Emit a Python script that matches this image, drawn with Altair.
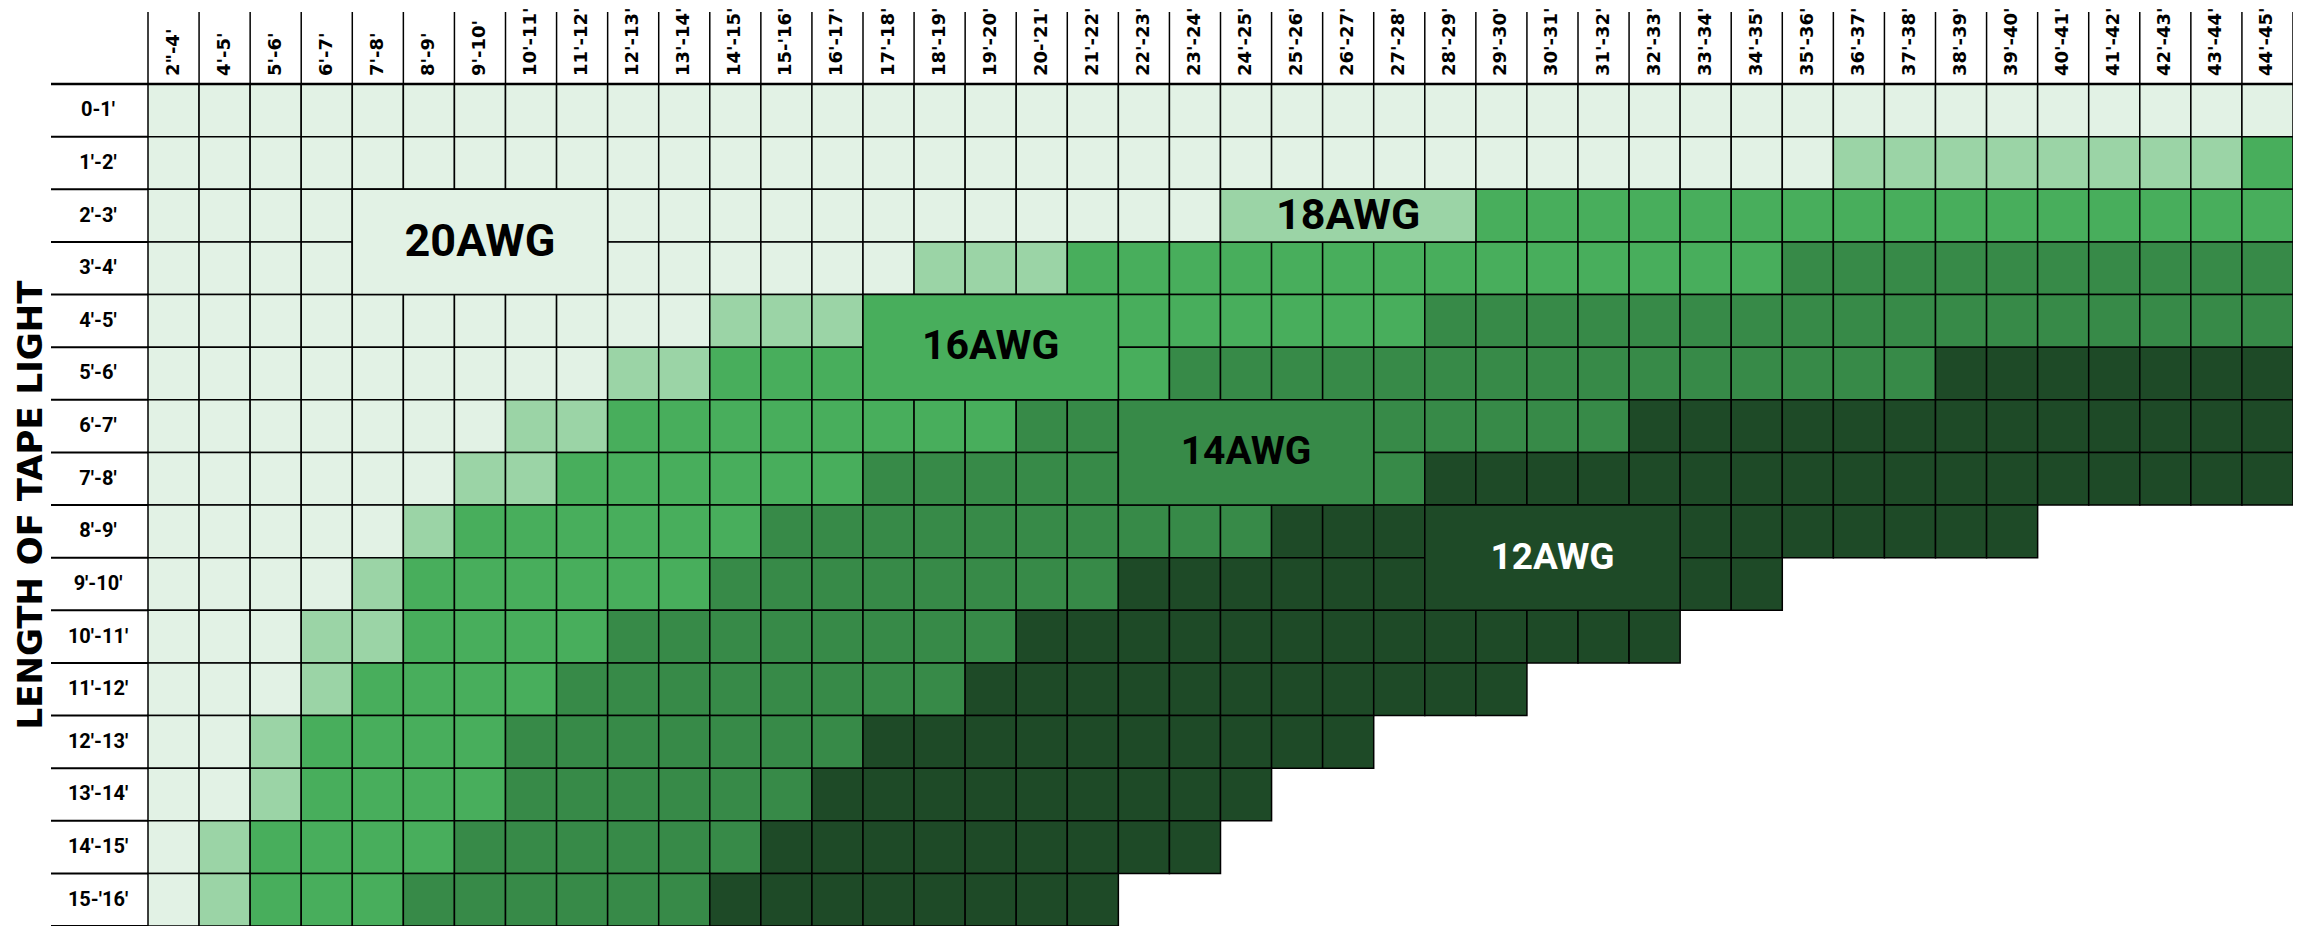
import altair as alt
import pandas as pd

# ---------------- data ----------------
col_labels = ['2"-4\'', "4'-5'", "5'-6'", "6'-7'", "7'-8'", "8'-9'", "9'-10'",
              "10'-11'", "11'-12'", "12'-13'", "13'-14'", "14'-15'", "15-'16'",
              "16'-17'", "17'-18'", "18'-19'", "19'-20'", "20-'21'", "21'-22'",
              "22'-23'", "23'-24'", "24'-25'", "25'-26'", "26'-27'", "27'-28'",
              "28'-29'", "29'-30'", "30'-31'", "31'-32'", "32'-33'", "33'-34'",
              "34'-35'", "35'-36'", "36'-37'", "37'-38'", "38'-39'", "39'-40'",
              "40'-41'", "41'-42'", "42'-43'", "43'-44'", "44'-45'"]
row_labels = ["0-1'", "1'-2'", "2'-3'", "3'-4'", "4'-5'", "5'-6'", "6'-7'", "7'-8'",
              "8'-9'", "9'-10'", "10'-11'", "11'-12'", "12'-13'", "13'-14'",
              "14'-15'", "15-'16'"]
gauges = ["20AWG", "18AWG", "16AWG", "14AWG", "12AWG"]

# number of consecutive cells of each gauge in every row (left to right)
cells_20awg = [42, 33, 21, 15, 11, 9, 7, 6, 5, 4, 3, 3, 2, 2, 1, 1]
cells_18awg = [0, 8, 5, 3, 3, 2, 2, 2, 1, 1, 2, 1, 1, 1, 1, 1]
cells_16awg = [0, 1, 16, 14, 11, 9, 8, 6, 6, 6, 4, 4, 4, 4, 4, 3]
cells_14awg = [0, 0, 0, 10, 17, 15, 12, 11, 10, 8, 8, 8, 7, 6, 6, 6]
cells_12awg = [0, 0, 0, 0, 0, 7, 13, 17, 15, 13, 13, 11, 10, 9, 9, 8]

# merged label blocks (row / column index ranges, inclusive)
block_gauge = ["20AWG", "18AWG", "16AWG", "14AWG", "12AWG"]
block_row_from = [2, 2, 4, 6, 8]
block_row_to = [3, 2, 5, 7, 9]
block_col_from = [4, 21, 14, 19, 25]
block_col_to = [8, 25, 18, 23, 29]

axis_title = "LENGTH OF TAPE LIGHT"

# ---------------- styles ----------------
gauge_fill = ["#E2F2E5", "#9BD4A6", "#48AE5C", "#378A48", "#1E4A27"]
label_ink = ["#000000", "#000000", "#000000", "#000000", "#FFFFFF"]
label_size = [45, 37, 45, 45, 45]
NARROW = "Liberation Sans Narrow, Arial Narrow, Roboto, sans-serif"
WIDE = "DejaVu Sans, Verdana, sans-serif"

W, H = 2145, 842
PAD_L, PAD_T = 140, 76

# ---------------- tables ----------------
counts = [cells_20awg, cells_18awg, cells_16awg, cells_14awg, cells_12awg]
recs = []
for r in range(len(row_labels)):
    c = 0
    for g, cnt in zip(gauges, counts):
        for _ in range(cnt[r]):
            recs.append({"row": r, "row1": r + 1, "col": c, "col1": c + 1, "gauge": g})
            c += 1
cells = pd.DataFrame(recs)

blocks = pd.DataFrame({
    "gauge": block_gauge,
    "row": block_row_from,
    "row1": [v + 1 for v in block_row_to],
    "col": block_col_from,
    "col1": [v + 1 for v in block_col_to],
})
blocks["xc"] = (blocks["col"] + blocks["col1"]) / 2
blocks["yc"] = (blocks["row"] + blocks["row1"]) / 2

cols = pd.DataFrame({"label": col_labels, "xc": [i + 0.5 for i in range(len(col_labels))]})
rows = pd.DataFrame({"label": row_labels, "yc": [i + 0.5 for i in range(len(row_labels))]})
col_bounds = pd.DataFrame({"b": list(range(len(col_labels) + 1))})
row_bounds = pd.DataFrame({"b": list(range(1, len(row_labels) + 1))})

xs = alt.Scale(domain=[0, len(col_labels)], nice=False, zero=False)
ys = alt.Scale(domain=[0, len(row_labels)], nice=False, zero=False, reverse=True)

cell_layer = alt.Chart(cells).mark_rect(stroke="black", strokeWidth=1.5).encode(
    x=alt.X("col:Q", scale=xs, axis=None),
    x2="col1:Q",
    y=alt.Y("row:Q", scale=ys, axis=None),
    y2="row1:Q",
    fill=alt.Fill("gauge:N", scale=alt.Scale(domain=gauges, range=gauge_fill), legend=None),
)

block_layer = alt.Chart(blocks).mark_rect(stroke="black", strokeWidth=1.5).encode(
    x=alt.X("col:Q", scale=xs, axis=None),
    x2="col1:Q",
    y=alt.Y("row:Q", scale=ys, axis=None),
    y2="row1:Q",
    fill=alt.Fill("gauge:N", scale=alt.Scale(domain=gauges, range=gauge_fill), legend=None),
)

block_text = alt.Chart(blocks).mark_text(font=NARROW, fontWeight="bold",
                                          align="center", baseline="middle").encode(
    x=alt.X("xc:Q", scale=xs, axis=None),
    y=alt.Y("yc:Q", scale=ys, axis=None),
    text="gauge:N",
    color=alt.Color("gauge:N", scale=alt.Scale(domain=gauges, range=label_ink), legend=None),
    size=alt.Size("gauge:O", scale=alt.Scale(domain=gauges, range=label_size), legend=None),
)

header_rules = alt.Chart(col_bounds).mark_rule(color="black", strokeWidth=1.5).encode(
    x=alt.X("b:Q", scale=xs, axis=None),
    y=alt.value(-PAD_T + 4),
    y2=alt.value(0),
)

header_text = alt.Chart(cols).mark_text(font=WIDE, fontWeight="bold", fontSize=18,
                                         angle=270, align="left", baseline="middle",
                                         color="black").encode(
    x=alt.X("xc:Q", scale=xs, axis=None),
    y=alt.value(-8),
    text="label:N",
)

header_base = alt.Chart(alt.Data(values=[{}])).mark_rule(color="black", strokeWidth=2.5).encode(
    x=alt.value(-97), x2=alt.value(W), y=alt.value(0)
)

row_rules = alt.Chart(row_bounds).mark_rule(color="black", strokeWidth=2).encode(
    y=alt.Y("b:Q", scale=ys, axis=None),
    x=alt.value(-97),
    x2=alt.value(0),
)

row_text = alt.Chart(rows).mark_text(font=NARROW, fontWeight="bold", fontSize=20,
                                      align="center", baseline="middle", color="black").encode(
    y=alt.Y("yc:Q", scale=ys, axis=None),
    x=alt.value(-50),
    text="label:N",
)

title_text = alt.Chart(alt.Data(values=[{"t": axis_title}])).mark_text(
    font=WIDE, fontWeight="bold", fontSize=34, angle=270, align="center",
    baseline="middle", color="black").encode(
    x=alt.value(-116), y=alt.value(H / 2), text="t:N"
)

chart = alt.layer(
    cell_layer, block_layer, block_text, header_rules, header_text,
    header_base, row_rules, row_text, title_text
).properties(
    width=W, height=H,
    autosize=alt.AutoSizeParams(type="none"),
    padding={"left": PAD_L, "top": PAD_T, "right": 0, "bottom": 0},
    background="white",
).configure_view(stroke=None)

chart.save("out.html", embed_options={"renderer": "svg", "actions": False})
